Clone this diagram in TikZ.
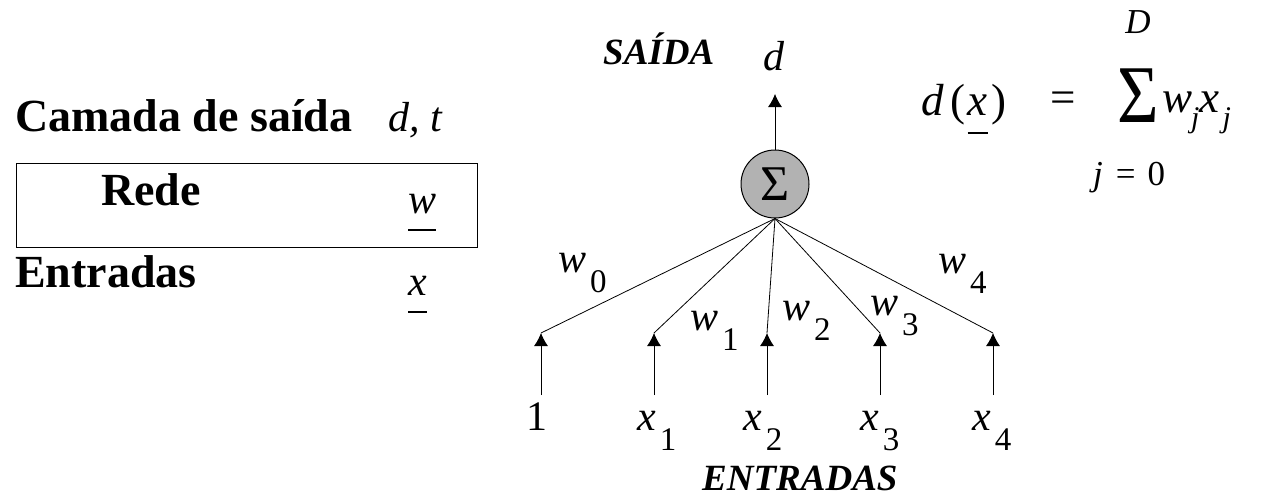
\documentclass[tikz,border=0pt]{standalone}
\usepackage{fontspec}
\usepackage{graphicx}
\setmainfont{Liberation Serif}
\usetikzlibrary{arrows.meta}

% short underline a bit below the letter (vector mark)
\newcommand{\ulvec}[1]{\setbox0\hbox{\itshape #1}\rlap{\copy0}\rule[-0.42em]{\wd0}{0.035em}}
% letter with a lowered, detached index
\newcommand{\ltrsub}[2]{\textit{#1}\kern4pt\raisebox{-20pt}{\fontsize{33}{33}\selectfont #2}}
\newcommand{\lowj}{\raisebox{-15pt}{\fontsize{30}{30}\selectfont\itshape j}}

\begin{document}
\begin{tikzpicture}[x=1pt,y=-1pt,>={Latex[length=13pt,width=14pt]},
  big/.style={inner sep=0pt,font=\fontsize{46}{46}\selectfont\bfseries},
  txt/.style={inner sep=0pt,font=\fontsize{42}{42}\selectfont},
  caption/.style={inner sep=0pt,font=\fontsize{37}{37}\selectfont\bfseries\itshape},
  frm/.style={inner sep=0pt,font=\fontsize{45}{45}\selectfont},
  lim/.style={inner sep=0pt,font=\fontsize{35}{35}\selectfont\itshape},
  wire/.style={line width=0.8pt}]
\useasboundingbox (0,0) rectangle (1268,499);

% left legend
\node[big,anchor=base west] (camada) at (15,131) {Camada de saída};
\node[txt,anchor=base west] (dt) at (388,131) {\itshape d, t};
\node[draw,line width=1pt,minimum width=461pt,minimum height=84pt,inner sep=0pt] (netbox) at (246.5,205) {};
\node[big,anchor=base west] (rede) at (101,205) {Rede};
\node[txt,anchor=base west] (wvec) at (408,213) {\ulvec{w}};
\node[big,anchor=base west] (entradas) at (15,287) {Entradas};
\node[txt,anchor=base west] (xvec) at (408,295) {\ulvec{x}};

% neuron
\node[circle,draw,line width=1pt,fill=black!30,minimum size=68pt,inner sep=0pt,font=\fontsize{50}{50}\selectfont] (sig) at (775,184) {Σ};
\coordinate (out) at (775,94);
\draw[wire,->] (sig.north) -- (out);
\node[txt,anchor=base west] (dout) at (763,70) {\itshape d};
\node[caption,anchor=base west] (saida) at (603,64) {SAÍDA};

% input arrows
\coordinate (t0) at (541,333); \coordinate (b0) at (541,395);
\coordinate (t1) at (654,333); \coordinate (b1) at (654,395);
\coordinate (t2) at (767,333); \coordinate (b2) at (767,395);
\coordinate (t3) at (880,333); \coordinate (b3) at (880,395);
\coordinate (t4) at (993,333); \coordinate (b4) at (993,395);
\draw[wire,->] (b0) -- (t0);
\draw[wire,->] (b1) -- (t1);
\draw[wire,->] (b2) -- (t2);
\draw[wire,->] (b3) -- (t3);
\draw[wire,->] (b4) -- (t4);
\draw[wire] (sig.south) -- (t0);
\draw[wire] (sig.south) -- (t1);
\draw[wire] (sig.south) -- (t2);
\draw[wire] (sig.south) -- (t3);
\draw[wire] (sig.south) -- (t4);

% weights
\node[txt,anchor=base west] (w0) at (558,272) {\ltrsub{w}{0}};
\node[txt,anchor=base west] (w1) at (690,330) {\ltrsub{w}{1}};
\node[txt,anchor=base west] (w2) at (782,320) {\ltrsub{w}{2}};
\node[txt,anchor=base west] (w3) at (870,315) {\ltrsub{w}{3}};
\node[txt,anchor=base west] (w4) at (938,273) {\ltrsub{w}{4}};

% input values
\node[txt,anchor=base west] (in0) at (526,430) {1};
\node[txt,anchor=base west] (in1) at (637,430) {\ltrsub{x}{1}};
\node[txt,anchor=base west] (in2) at (743,430) {\ltrsub{x}{2}};
\node[txt,anchor=base west] (in3) at (860,430) {\ltrsub{x}{3}};
\node[txt,anchor=base west] (in4) at (972,430) {\ltrsub{x}{4}};
\node[caption,anchor=base west] (entr) at (702,490) {ENTRADAS};

% formula
\node[frm,anchor=base west] (fd) at (921,115) {\itshape d\kern7pt\upshape(\kern2pt\ulvec{x}\kern4pt)};
\node[frm,anchor=base] (feq) at (1063,112) {=};
\node[inner sep=0pt,anchor=base,font=\fontsize{82}{82}\selectfont] (fsum) at (1138,122) {\scalebox{0.87}[1]{Σ}};
\node[frm,anchor=base west] (fwx) at (1162,112) {\itshape w\kern-1pt\lowj\kern0pt x\kern3pt\lowj};
\node[lim,anchor=base] (fup) at (1138,33) {D};
\node[lim,anchor=base west] (flow) at (1093,185) {j\kern13pt\upshape=\kern12pt0};
\end{tikzpicture}
\end{document}
